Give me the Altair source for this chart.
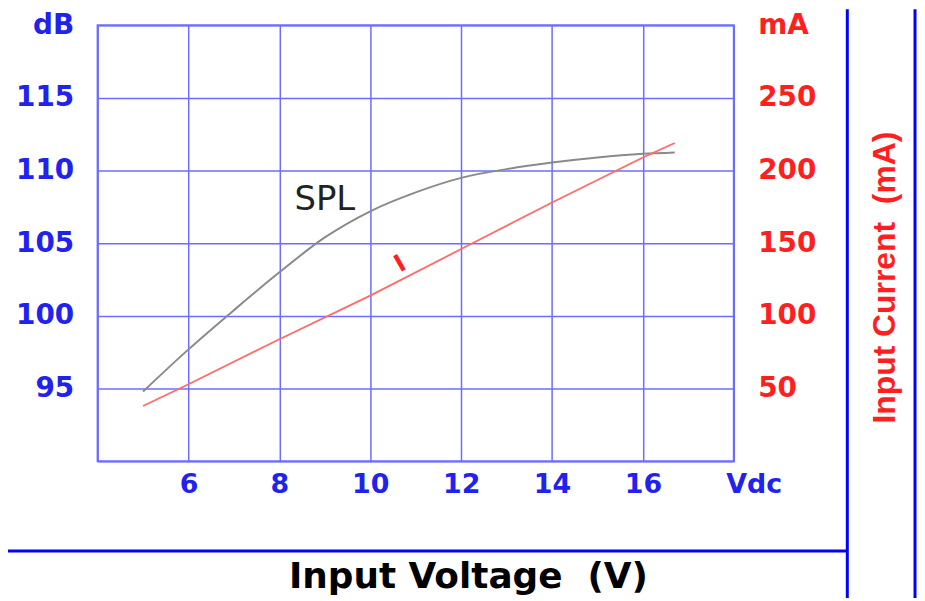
import altair as alt
import pandas as pd

# ---- data ----
volts_spl = [5, 6, 7, 8, 9, 10, 11, 12, 13, 14, 15, 16, 16.7]
spl_db = [94.8, 97.7, 100.4, 103.0, 105.4, 107.2, 108.5, 109.5, 110.1, 110.55, 110.9, 111.15, 111.25]

volts_i = [5, 6, 8, 10, 12, 14, 16, 16.7]
current_ma = [38, 53, 84, 114, 146, 178, 209, 219]

x_ticks = [4, 6, 8, 10, 12, 14, 16, 18]
db_ticks = [90, 95, 100, 105, 110, 115, 120]
ma_ticks = [0, 50, 100, 150, 200, 250, 300]

label_spl = ["SPL"]
label_spl_v = [9.0]
label_spl_db = [107.95]
label_i = ["I"]
label_i_v = [10.66]
label_i_ma = [135.6]

spl_df = pd.DataFrame({"V": volts_spl, "dB": spl_db})
i_df = pd.DataFrame({"V": volts_i, "mA": current_ma})
spl_lab_df = pd.DataFrame({"V": label_spl_v, "dB": label_spl_db, "t": label_spl})
i_lab_df = pd.DataFrame({"V": label_i_v, "mA": label_i_ma, "t": label_i})
one = pd.DataFrame({"k": [0]})

BLUE_LBL = "#2222ee"
RED_LBL = "#ff1f1f"
GRID = "#6c6cff"
FRAME = "#0000ff"
LBL_FONT = "DejaVu Sans"

x_enc = alt.X(
    "V:Q",
    scale=alt.Scale(domain=[4, 18], nice=False, zero=False),
    axis=alt.Axis(
        values=x_ticks,
        labelExpr="datum.value == 18 ? 'Vdc' : (datum.value == 4 ? '' : datum.label)",
        labelOffset={"condition": {"test": "datum.value == 18", "value": 20}, "value": 0},
        grid=True, gridColor=GRID, gridWidth=1.5,
        domain=False, ticks=False, labelPadding=10,
        labelFont=LBL_FONT, labelFontWeight="bold", labelFontSize=27,
        labelColor=BLUE_LBL, labelFlush=False, labelOverlap=False,
        title="Input Voltage\u00a0 (V)", titleFont=LBL_FONT, titleFontSize=36,
        titleFontWeight="bold", titleColor="black",
        titleX=372, titleY=127, titleBaseline="alphabetic", titleAlign="center",
    ),
)

y_db = alt.Y(
    "dB:Q",
    scale=alt.Scale(domain=[90, 120], nice=False, zero=False),
    axis=alt.Axis(
        values=db_ticks,
        labelExpr="datum.value == 120 ? 'dB' : (datum.value == 90 ? '' : datum.label)",
        grid=True, gridColor=GRID, gridWidth=1.5,
        domain=False, ticks=False, labelPadding=24,
        labelFont=LBL_FONT, labelFontWeight="bold", labelFontSize=28,
        labelColor=BLUE_LBL, labelFlush=False, labelOverlap=False,
        title=None,
    ),
)

y_ma = alt.Y(
    "mA:Q",
    scale=alt.Scale(domain=[0, 300], nice=False, zero=False),
    axis=alt.Axis(
        orient="right",
        values=ma_ticks,
        labelExpr="datum.value == 300 ? 'mA' : (datum.value == 0 ? '' : datum.label)",
        grid=False, domain=False, ticks=False, labelPadding=24,
        labelFont=LBL_FONT, labelFontWeight="bold", labelFontSize=28,
        labelColor=RED_LBL, labelAlign="left", labelFlush=False, labelOverlap=False,
        title="Input Current\u00a0 (mA)", titleColor=RED_LBL,
        titleFont="Liberation Sans", titleFontSize=32,
        titleFontWeight="bold", titleAngle=270,
        titleX=151, titleY=253, titleBaseline="middle", titleAlign="center",
    ),
)

spl_line = alt.Chart(spl_df).mark_line(
    color="#8a8a8a", strokeWidth=2, interpolate="monotone"
).encode(x=x_enc, y=y_db)

spl_text = alt.Chart(spl_lab_df).mark_text(
    font=LBL_FONT, fontSize=34, color="#222222", align="center", baseline="middle"
).encode(x=x_enc, y=y_db, text="t:N")

frame_v1 = alt.Chart(one).mark_rule(color=FRAME, strokeWidth=3).encode(
    x=alt.value(753), y=alt.value(-16), y2=alt.value(580)
)
frame_v2 = alt.Chart(one).mark_rule(color=FRAME, strokeWidth=3).encode(
    x=alt.value(821), y=alt.value(-16), y2=alt.value(580)
)
frame_h = alt.Chart(one).mark_rule(color=FRAME, strokeWidth=3).encode(
    x=alt.value(-90), x2=alt.value(753), y=alt.value(528)
)

i_line = alt.Chart(i_df).mark_line(
    color="#ff6a6a", strokeWidth=1.8
).encode(x=x_enc, y=y_ma)

i_text = alt.Chart(i_lab_df).mark_text(
    font=LBL_FONT, fontWeight="bold", fontSize=24, color="#ff1f1f",
    angle=330, align="center", baseline="middle"
).encode(x=x_enc, y=y_ma, text="t:N")

left_group = alt.layer(frame_v1, frame_v2, frame_h, spl_line, spl_text)
right_group = alt.layer(i_line, i_text)

chart = (
    alt.layer(left_group, right_group)
    .resolve_scale(y="independent")
    .properties(
        width=639,
        height=438,
        autosize=alt.AutoSizeParams(type="none"),
        padding={"left": 90, "top": 16, "right": 184, "bottom": 136},
        background="white",
    )
    .configure_view(stroke=GRID, strokeWidth=2)
)

chart.save("out.html", embed_options={"renderer": "svg", "actions": False})
